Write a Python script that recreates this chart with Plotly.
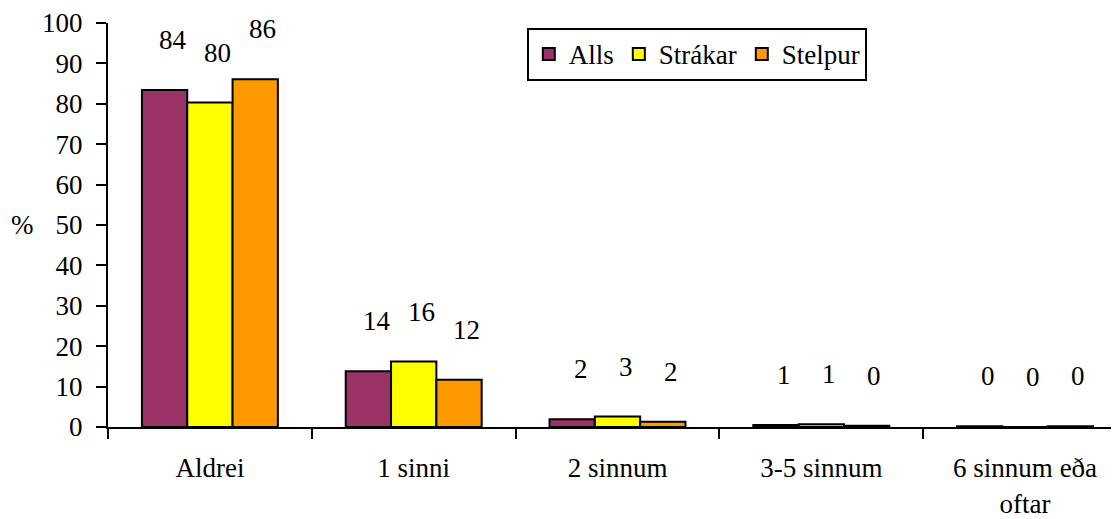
import plotly.graph_objects as go

categories = ["Aldrei", "1 sinni", "2 sinnum", "3-5 sinnum", "6 sinnum eða<br>oftar"]
series_names = ["Alls", "Strákar", "Stelpur"]
alls = [83.4, 13.8, 1.9, 0.5, 0.2]
strakar = [80.3, 16.2, 2.6, 0.7, 0.0]
stelpur = [86.1, 11.7, 1.3, 0.3, 0.2]
labels_alls = ["84", "14", "2", "1", "0"]
labels_strakar = ["80", "16", "3", "1", "0"]
labels_stelpur = ["86", "12", "2", "0", "0"]
colors = ["#993366", "#FFFF00", "#FF9900"]

FONT = "Liberation Serif"
FS = 27

fig = go.Figure()
all_vals = [alls, strakar, stelpur]
all_labels = [labels_alls, labels_strakar, labels_stelpur]
for name, vals, col in zip(series_names, all_vals, colors):
    fig.add_trace(go.Bar(
        name=name, x=categories, y=vals,
        marker=dict(color=col, line=dict(color="black", width=2)),
    ))

# value labels placed above bars
for si, (vals, labs) in enumerate(zip(all_vals, all_labels)):
    for cat, v, lab in zip(categories, vals, labs):
        fig.add_annotation(
            x=cat, y=v, xref="x", yref="y", text=lab, showarrow=False,
            xshift=(si - 1) * 45 + 8, yshift=50,
            font=dict(family=FONT, size=FS, color="black"),
        )

fig.add_annotation(
    x=0, y=50, xref="paper", yref="y", text="%", showarrow=False,
    xanchor="center", xshift=-86,
    font=dict(family=FONT, size=FS, color="black"),
)

fig.update_layout(
    width=1119, height=519,
    margin=dict(l=100, r=0, t=12, b=100),
    paper_bgcolor="white", plot_bgcolor="white",
    barmode="group", bargap=0.333, bargroupgap=0,
    font=dict(family=FONT, size=FS, color="black"),
    showlegend=True,
    legend=dict(
        orientation="h", x=0.411, y=0.988, xanchor="left", yanchor="top",
        bordercolor="black", borderwidth=2, bgcolor="white",
        font=dict(family=FONT, size=FS, color="black"),
        itemwidth=30,
    ),
)
fig.update_xaxes(
    showline=True, linecolor="black", linewidth=2,
    ticks="outside", ticklen=10, tickwidth=2, tickcolor="black",
    tickson="boundaries", showgrid=False, ticklabelstandoff=16,
    tickfont=dict(family=FONT, size=FS, color="black"),
)
fig.update_yaxes(
    range=[0, 100], dtick=10, showline=True, linecolor="black", linewidth=2,
    ticks="outside", ticklen=10, tickwidth=2, tickcolor="black",
    showgrid=False, zeroline=False, ticklabeloverflow="allow",
    ticklabelstandoff=8,
    tickfont=dict(family=FONT, size=FS, color="black"),
)

fig.write_html("out.html")
